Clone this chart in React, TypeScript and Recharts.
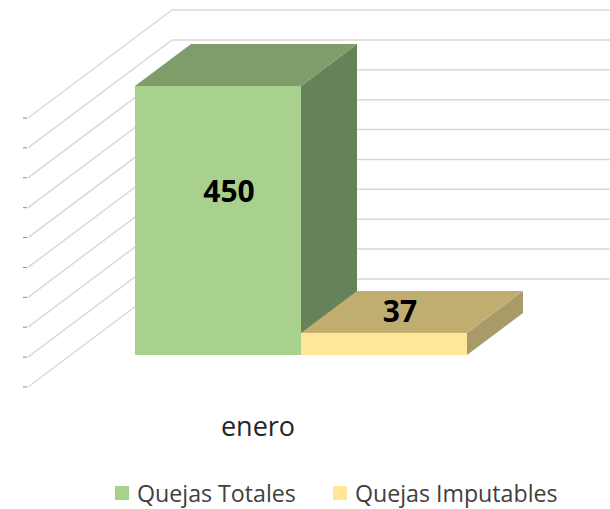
import { BarChart, Bar, XAxis, YAxis, Legend, LabelList, CartesianGrid } from "recharts";

const categories = ["enero"];
const quejasTotales = [450];
const quejasImputables = [37];
const yTicks = [0, 50, 100, 150, 200, 250, 300, 350, 400, 450];

const FONT = "'Open Sans', sans-serif";

// profundidad de las barras 3D
const DEPTH_X = 56;
const DEPTH_Y = 42;

// desplazamiento de las paredes respecto al plano de las barras
const FLOOR_FRONT = { dx: -43, dy: 32 };
const FLOOR_BACK = { dx: 101, dy: -76 };

const COLORS = {
  totales: { front: "#a9d18e", top: "#7f9d6b", side: "#65825a" },
  imputables: { front: "#ffe699", top: "#c0ad70", side: "#a89b68" },
};

const chartData = categories.map((name, i) => ({
  name,
  totales: quejasTotales[i],
  imputables: quejasImputables[i],
}));

function Box3D({ x, y, width, height, colors }: any) {
  const r = x + width;
  const b = y + height;
  return (
    <g>
      <polygon
        points={`${r},${y} ${r + DEPTH_X},${y - DEPTH_Y} ${r + DEPTH_X},${b - DEPTH_Y} ${r},${b}`}
        fill={colors.side}
      />
      <polygon
        points={`${x},${y} ${x + DEPTH_X},${y - DEPTH_Y} ${r + DEPTH_X},${y - DEPTH_Y} ${r},${y}`}
        fill={colors.top}
      />
      <rect x={x} y={y} width={width} height={height} fill={colors.front} />
    </g>
  );
}

// marca del eje + linea diagonal de la pared lateral + linea de la pared trasera
function WallLine({ x1, y1 }: any) {
  const xFront = x1 + FLOOR_FRONT.dx;
  const xBack = x1 + FLOOR_BACK.dx;
  const yFront = y1 + FLOOR_FRONT.dy;
  const yBack = y1 + FLOOR_BACK.dy;
  return (
    <g>
      <line x1={xFront - 5} y1={yFront} x2={xFront - 1} y2={yFront} stroke="#8c8c8c" strokeWidth={1} />
      <polyline
        points={`${xFront},${yFront} ${xBack},${yBack} 610,${yBack}`}
        fill="none"
        stroke="#d9d9d9"
        strokeWidth={1.5}
      />
    </g>
  );
}

function CategoryTick({ x, y, payload }: any) {
  return (
    <text x={x + FLOOR_FRONT.dx} y={y + 73} textAnchor="middle" fontFamily={FONT} fontSize={27} fill="#262626">
      {payload.value}
    </text>
  );
}

function makeLabel(dx: number, dy: number) {
  return function BarLabel({ x, y, width, height, value }: any) {
    return (
      <text
        x={x + width / 2 + dx}
        y={y + height / 2 + dy}
        textAnchor="middle"
        dominantBaseline="central"
        fontFamily={FONT}
        fontWeight={700}
        fontSize={30}
        fill="#000000"
      >
        {value}
      </text>
    );
  };
}

function LegendContent({ payload }: any) {
  return (
    <div style={{ display: "flex", fontFamily: FONT, fontSize: 23.2, color: "#404040", lineHeight: "28px" }}>
      {(payload || []).map((item: any, i: number) => (
        <div key={item.value} style={{ display: "flex", alignItems: "center", marginRight: i === 0 ? 37 : 0 }}>
          <span style={{ width: 14, height: 14, background: item.color, marginRight: 8, display: "inline-block" }} />
          <span>{item.value}</span>
        </div>
      ))}
    </div>
  );
}

export default function App() {
  return (
    <div style={{ position: "absolute", left: 0, top: 0, width: 610, height: 509, background: "#ffffff" }}>
      <BarChart
        width={610}
        height={509}
        data={chartData}
        margin={{ top: 86, right: 79, bottom: 124, left: 70 }}
        barCategoryGap={64}
        barGap={0}
      >
        <CartesianGrid vertical={false} syncWithTicks horizontal={(p: any) => <WallLine key={p.index} {...p} />} />
        <XAxis dataKey="name" axisLine={false} tickLine={false} height={30} tick={<CategoryTick />} />
        <YAxis
          width={1}
          domain={[0, 450]}
          ticks={yTicks}
          axisLine={false}
          tickLine={false}
          interval={0}
          tick={() => <g />}
        />
        <Legend
          verticalAlign="middle"
          itemSorter={null}
          content={<LegendContent />}
          wrapperStyle={{ left: 115, top: 479, width: 490, height: 28 }}
        />
        <Bar
          dataKey="totales"
          name="Quejas Totales"
          fill={COLORS.totales.front}
          isAnimationActive={false}
          shape={(p: any) => <Box3D {...p} colors={COLORS.totales} />}
        >
          <LabelList dataKey="totales" content={makeLabel(11, -30)} />
        </Bar>
        <Bar
          dataKey="imputables"
          name="Quejas Imputables"
          fill={COLORS.imputables.front}
          isAnimationActive={false}
          shape={(p: any) => <Box3D {...p} colors={COLORS.imputables} />}
        >
          <LabelList dataKey="imputables" content={makeLabel(16, -33)} />
        </Bar>
      </BarChart>
    </div>
  );
}
